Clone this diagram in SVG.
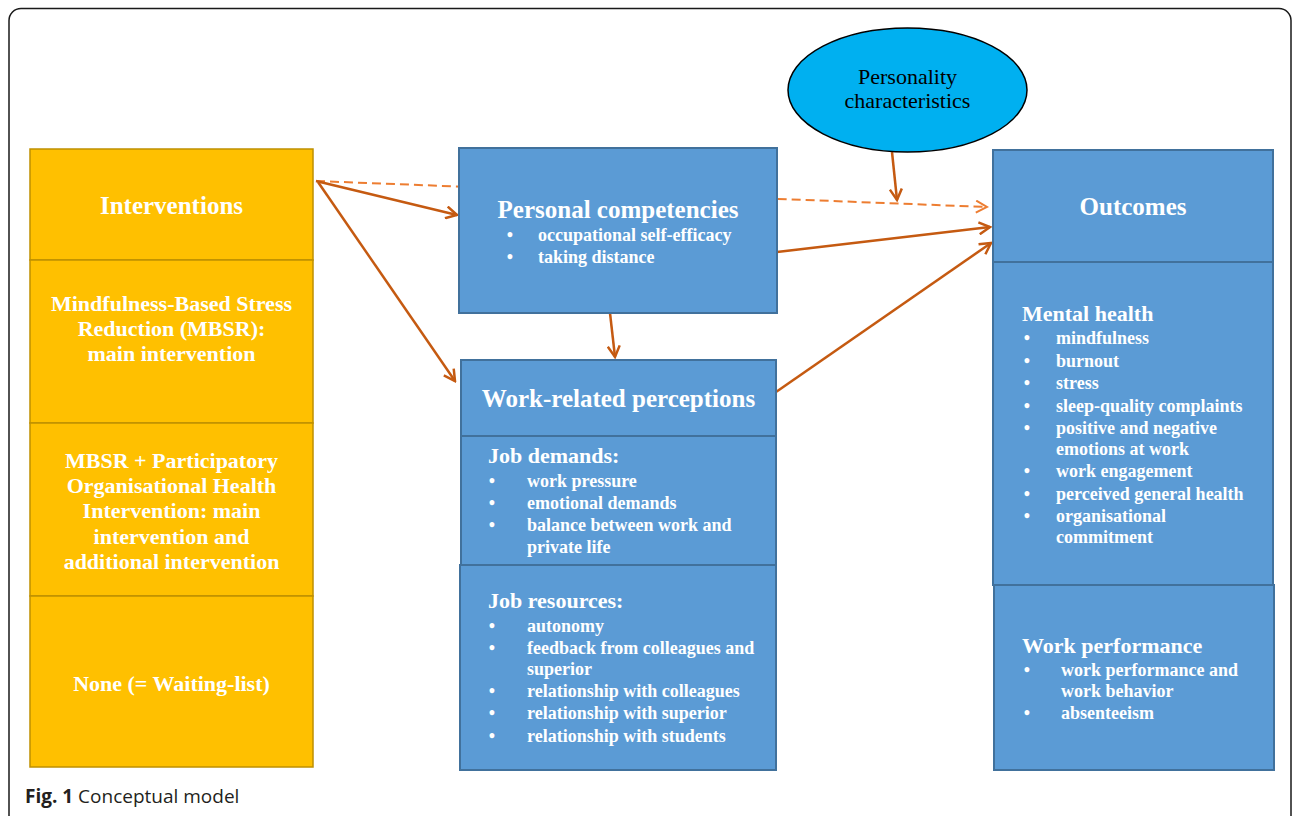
<svg xmlns="http://www.w3.org/2000/svg" width="1292" height="816" viewBox="0 0 1292 816">
<style>
.gold{fill:#FFC000;stroke:#BF9000;stroke-width:1.5}
.blue{fill:#5B9BD5;stroke:#41719C;stroke-width:2}
.t{font-family:"Liberation Serif","Times New Roman",serif;fill:#fff;font-weight:bold}
.title{font-size:25px;text-anchor:middle}
.body{font-size:22px;text-anchor:middle}
.sub{font-size:22px}
.li{font-size:18px}
.bul{font-size:18px;text-anchor:middle}
.sol{stroke:#C55A11;stroke-width:2.5;fill:none;marker-end:url(#ah)}
.dash{stroke:#ED7D31;stroke-width:2;fill:none;stroke-dasharray:9 5;marker-end:url(#ahd)}
</style>
<defs>
<marker id="ah" viewBox="0 0 14 14" refX="12" refY="7" markerWidth="14" markerHeight="14" markerUnits="userSpaceOnUse" orient="auto">
<path d="M1,1 L12,7 L1,13" fill="none" stroke="#C55A11" stroke-width="2.5"/>
</marker>
<marker id="ahd" viewBox="0 0 14 14" refX="12" refY="7" markerWidth="14" markerHeight="14" markerUnits="userSpaceOnUse" orient="auto">
<path d="M1,1 L12,7 L1,13" fill="none" stroke="#ED7D31" stroke-width="2"/>
</marker>
</defs>
<rect x="0" y="0" width="1292" height="816" fill="#fff"/>
<rect x="9" y="8.5" width="1282" height="820" rx="12" fill="none" stroke="#1a1a1a" stroke-width="1.5"/>

<g id="connectors">
<line class="dash" x1="316" y1="181" x2="987" y2="207"/>
<line class="sol" x1="316" y1="181" x2="457" y2="215"/>
<line class="sol" x1="318" y1="182" x2="455" y2="381"/>
<line class="sol" x1="610" y1="313" x2="615" y2="357"/>
<line class="sol" x1="777" y1="252" x2="990" y2="227"/>
<line class="sol" x1="776" y1="392" x2="991" y2="243"/>
<line class="sol" x1="892" y1="152" x2="897" y2="200"/>
</g>

<g id="interventions">
<rect class="gold" x="30" y="149" width="283" height="111"/>
<text class="t title" x="171.5" y="214">Interventions</text>
</g>
<g id="mbsr">
<rect class="gold" x="30" y="260" width="283" height="163"/>
<text class="t body" x="171.5" y="311">Mindfulness-Based Stress</text>
<text class="t body" x="171.5" y="336">Reduction (MBSR):</text>
<text class="t body" x="171.5" y="361">main intervention</text>
</g>
<g id="mbsr-pohi">
<rect class="gold" x="30" y="423" width="283" height="173"/>
<text class="t body" x="171.5" y="468">MBSR + Participatory</text>
<text class="t body" x="171.5" y="493">Organisational Health</text>
<text class="t body" x="171.5" y="518">Intervention: main</text>
<text class="t body" x="171.5" y="544">intervention and</text>
<text class="t body" x="171.5" y="569">additional intervention</text>
</g>
<g id="none">
<rect class="gold" x="30" y="596" width="283" height="171"/>
<text class="t body" x="171.5" y="691">None (= Waiting-list)</text>
</g>

<g id="personal-competencies">
<rect class="blue" x="459" y="148" width="318" height="165"/>
<text class="t title" x="618" y="218">Personal competencies</text>
<text class="t bul" x="510" y="241">•</text><text class="t li" x="538" y="241">occupational self-efficacy</text>
<text class="t bul" x="510" y="263">•</text><text class="t li" x="538" y="263">taking distance</text>
</g>

<g id="work-related-perceptions">
<rect class="blue" x="461" y="360" width="315" height="76"/>
<text class="t title" x="618.5" y="407">Work-related perceptions</text>
</g>
<g id="job-demands">
<rect class="blue" x="461" y="436" width="315" height="129"/>
<text class="t sub" x="488" y="463">Job demands:</text>
<text class="t bul" x="492" y="487">•</text><text class="t li" x="527" y="487">work pressure</text>
<text class="t bul" x="492" y="509">•</text><text class="t li" x="527" y="509">emotional demands</text>
<text class="t bul" x="492" y="531">•</text><text class="t li" x="527" y="531">balance between work and</text>
<text class="t li" x="527" y="553">private life</text>
</g>
<g id="job-resources">
<rect class="blue" x="460" y="565" width="316" height="205"/>
<text class="t sub" x="488" y="608">Job resources:</text>
<text class="t bul" x="492" y="632">•</text><text class="t li" x="527" y="632">autonomy</text>
<text class="t bul" x="492" y="654">•</text><text class="t li" x="527" y="654">feedback from colleagues and</text>
<text class="t li" x="527" y="675">superior</text>
<text class="t bul" x="492" y="697">•</text><text class="t li" x="527" y="697">relationship with colleagues</text>
<text class="t bul" x="492" y="719">•</text><text class="t li" x="527" y="719">relationship with superior</text>
<text class="t bul" x="492" y="742">•</text><text class="t li" x="527" y="742">relationship with students</text>
</g>

<g id="outcomes">
<rect class="blue" x="993" y="150" width="280" height="112"/>
<text class="t title" x="1133" y="215">Outcomes</text>
</g>
<g id="mental-health">
<rect class="blue" x="993" y="262" width="280" height="323"/>
<text class="t sub" x="1022" y="321">Mental health</text>
<text class="t bul" x="1027" y="344">•</text><text class="t li" x="1056" y="344">mindfulness</text>
<text class="t bul" x="1027" y="367">•</text><text class="t li" x="1056" y="367">burnout</text>
<text class="t bul" x="1027" y="389">•</text><text class="t li" x="1056" y="389">stress</text>
<text class="t bul" x="1027" y="412">•</text><text class="t li" x="1056" y="412">sleep-quality complaints</text>
<text class="t bul" x="1027" y="434">•</text><text class="t li" x="1056" y="434">positive and negative</text>
<text class="t li" x="1056" y="455">emotions at work</text>
<text class="t bul" x="1027" y="477">•</text><text class="t li" x="1056" y="477">work engagement</text>
<text class="t bul" x="1027" y="500">•</text><text class="t li" x="1056" y="500">perceived general health</text>
<text class="t bul" x="1027" y="522">•</text><text class="t li" x="1056" y="522">organisational</text>
<text class="t li" x="1056" y="543">commitment</text>
</g>
<g id="work-performance">
<rect class="blue" x="994" y="585" width="280" height="185"/>
<text class="t sub" x="1022" y="653">Work performance</text>
<text class="t bul" x="1027" y="676">•</text><text class="t li" x="1061" y="676">work performance and</text>
<text class="t li" x="1061" y="697">work behavior</text>
<text class="t bul" x="1027" y="719">•</text><text class="t li" x="1061" y="719">absenteeism</text>
</g>

<g id="personality">
<ellipse cx="907.5" cy="90" rx="119.5" ry="62" fill="#00B0F0" stroke="#000" stroke-width="1.5"/>
<text x="907.5" y="84" font-family="Liberation Serif, Times New Roman, serif" font-size="22" text-anchor="middle" fill="#000">Personality</text>
<text x="907.5" y="108" font-family="Liberation Serif, Times New Roman, serif" font-size="22" text-anchor="middle" fill="#000">characteristics</text>
</g>

<text x="25" y="803" font-family="Open Sans, Noto Sans, sans-serif" font-size="19" fill="#231f20"><tspan font-weight="bold">Fig. 1</tspan> Conceptual model</text>
</svg>
